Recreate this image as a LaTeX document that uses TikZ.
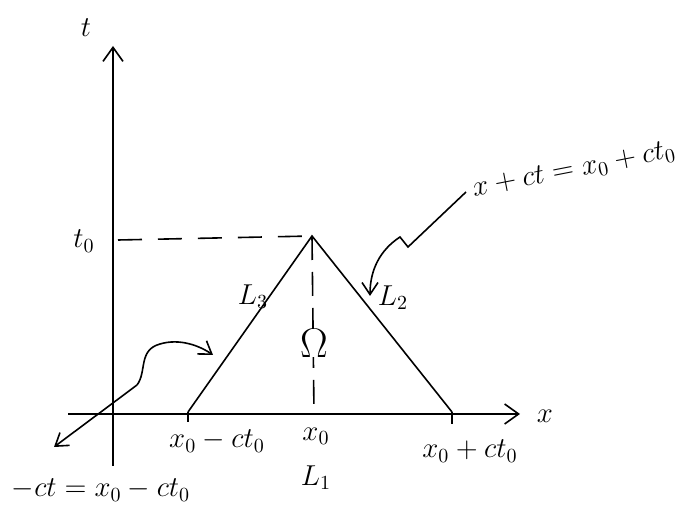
\documentclass[tikz,border=0pt]{standalone}
\usepackage{amsmath}
\usepackage{amssymb}
\usepackage{tikz}
\usetikzlibrary{arrows.meta}

\begin{document}
\begin{tikzpicture}[x=0.5pt, y=-0.5pt, line width=0.8pt,
		lbl/.style={font=\Large, inner sep=1pt},
		pointer/.style={-{Straight Barb[length=6pt, width=8pt]}}]
	\useasboundingbox (0, 0) rectangle (698, 519);

	% Axis
	\coordinate (xs) at (68, 414);
	\coordinate (xe) at (520, 414);
	\coordinate (ts) at (113, 466);
	\coordinate (te) at (113, 46);
	\draw[-{Straight Barb[length=7pt, width=10pt]}] (xs) -- (xe);
	\draw[-{Straight Barb[length=7pt, width=10pt]}] (ts) -- (te);
	\node[lbl] (xlab) at (545, 416) {$x$};
	\node[lbl] (tlab) at (86, 28) {$t$};

	% Triangle
	\coordinate (A) at (188, 412);
	\coordinate (B) at (452, 412);
	\coordinate (C) at (312, 236);
	\coordinate (D) at (314, 414);
	\draw (A) -- (C) -- (B);
	\draw (A) -- ++(0, 10);
	\draw (B) -- ++(0, 12);
	\coordinate (T) at (118, 240);
	\draw[dashed, dash pattern=on 12pt off 8pt] (T) -- (C);
	\draw[dashed, dash pattern=on 12pt off 6pt] (C) -- (D);

	% Ticks and Labels
	\node[lbl] (t0) at (84, 241) {$t_0$};
	\node[lbl, font=\huge, fill=white, inner sep=0pt] (om) at (314, 343) {$\Omega$};
	\node[lbl] (L3) at (253, 297) {$L_3$};
	\node[lbl] (L2) at (393, 298) {$L_2$};
	\node[lbl] (L1) at (316, 478) {$L_1$};
	\node[lbl] (x0) at (316, 436) {$x_0$};
	\node[lbl] (xm) at (217, 441) {$x_0-ct_0$};
	\node[lbl] (xp) at (470, 451) {$x_0+ct_0$};
	\node[lbl] (leq) at (101, 490) {$-ct=x_0-ct_0$};
	\node[lbl, rotate=11] (req) at (574, 170) {$x+ct=x_0+ct_0$};

	% Pointers
	\coordinate (p1) at (54, 447);
	\coordinate (p2) at (213, 355);
	\draw[pointer] (137, 385) -- (p1);
	\draw[pointer] (137, 385) .. controls (147, 372) and (138, 350) .. (160, 344)
		.. controls (180, 338) and (200, 346) .. (p2);
	\coordinate (q1) at (466, 192);
	\coordinate (q2) at (370, 296);
	\draw[pointer] (q1) -- (408, 247) -- (400, 237)
		.. controls (380, 250) and (370, 270) .. (q2);
\end{tikzpicture}
\end{document}
